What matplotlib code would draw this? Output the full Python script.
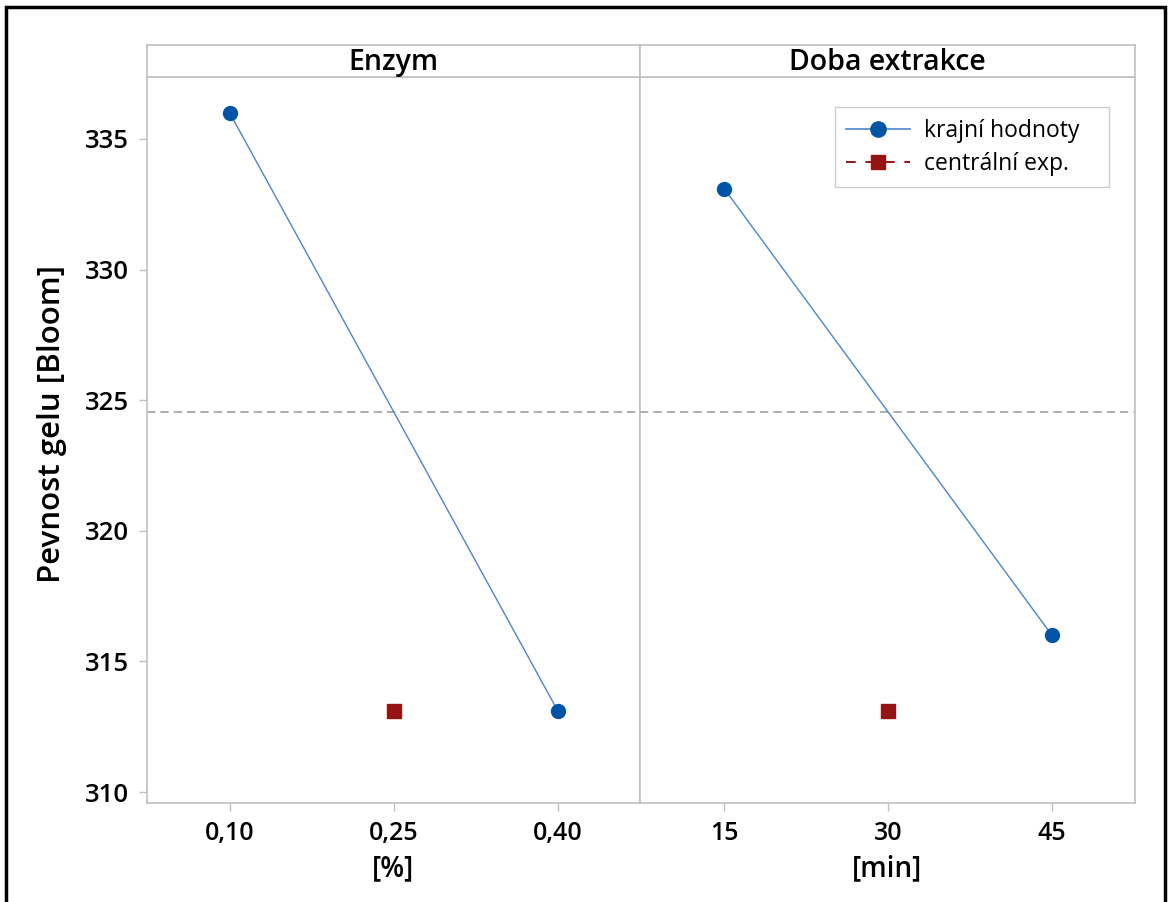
import matplotlib.pyplot as plt
from matplotlib.patches import Rectangle
from matplotlib.lines import Line2D

# data
factors = ['Enzym', 'Doba extrakce']
units = ['[%]', '[min]']
levels = [[0.10, 0.25, 0.40], [15, 30, 45]]
level_labels = [['0,10', '0,25', '0,40'], ['15', '30', '45']]
extreme_means = [[336.0, 313.1], [333.1, 316.0]]
center_means = [313.1, 313.1]
overall_mean = 324.55
yticks = [310, 315, 320, 325, 330, 335]

plt.rcParams['font.family'] = ['Open Sans', 'DejaVu Sans']

W, H = 1176, 902
fig = plt.figure(figsize=(W / 100, H / 100), dpi=100)

blue = '#0054a6'
line_blue = '#4a86c8'
red = '#941414'
grey = '#c0c0c0'

ax_top, ax_bot, strip_top = 77, 803, 45
panel_x = [(147, 640), (640, 1135)]
xlims = [(0.0245, 0.475), (7.3, 52.6)]
ylim = (309.58, 337.37)

for i, (x0, x1) in enumerate(panel_x):
    ax = fig.add_axes([x0 / W, (H - ax_bot) / H, (x1 - x0) / W, (ax_bot - ax_top) / H])
    lv = levels[i]
    ax.plot([lv[0], lv[2]], extreme_means[i], color=line_blue, lw=1.0, zorder=2)
    ax.plot([lv[0], lv[2]], extreme_means[i], 'o', color=blue, ms=10, zorder=3)
    ax.plot([lv[1]], [center_means[i]], 's', color=red, ms=10, zorder=3)
    ax.axhline(overall_mean, color='#a0a0a0', lw=1.2, ls=(0, (5, 3)), zorder=1)
    ax.set_xlim(*xlims[i])
    ax.set_ylim(*ylim)
    ax.set_xticks(lv)
    ax.set_xticklabels(level_labels[i], fontsize=18, fontweight='semibold')
    ax.set_xlabel(units[i], fontsize=20, fontweight='semibold', labelpad=6)
    for sp in ax.spines.values():
        sp.set_color(grey)
        sp.set_linewidth(1.2)
    ax.tick_params(axis='both', color=grey, length=6, width=1, pad=7)
    if i == 0:
        ax.set_yticks(yticks)
        ax.set_yticklabels([str(t) for t in yticks], fontsize=18.5, fontweight='semibold')
        ax.set_ylabel('Pevnost gelu [Bloom]', fontsize=22.5, fontweight='semibold')
        ax.yaxis.set_label_coords(-0.163, 0.522)
    else:
        ax.set_yticks([])
        handles = [
            Line2D([], [], color=line_blue, lw=1.2, marker='o', ms=11,
                   markerfacecolor=blue, markeredgecolor=blue),
            Line2D([], [], color=red, lw=1.4, ls=(0, (5, 5)), marker='s', ms=10,
                   markerfacecolor=red, markeredgecolor=red),
        ]
        leg = ax.legend(handles, ['krajní hodnoty   ', 'centrální exp.'],
                        loc='upper right', bbox_to_anchor=(0.947, 0.958),
                        fontsize=16.5, frameon=True, fancybox=False,
                        handlelength=2.8, handletextpad=0.6,
                        borderpad=0.5, labelspacing=0.38,
                        borderaxespad=0)
        leg.get_frame().set_edgecolor(grey)
        leg.get_frame().set_linewidth(1.0)

    # strip with factor name
    sax = fig.add_axes([x0 / W, (H - ax_top) / H, (x1 - x0) / W, (ax_top - strip_top) / H])
    sax.set_xticks([])
    sax.set_yticks([])
    for sp in sax.spines.values():
        sp.set_color(grey)
        sp.set_linewidth(1.2)
    sax.text(0.5, 0.45, factors[i], ha='center', va='center', fontsize=20.5,
             fontweight='semibold', transform=sax.transAxes)

# black frame around the whole graph
fig.patches.append(Rectangle((6 / W, -0.02), (1165 - 6) / W, 1.02 - 7 / H,
                             transform=fig.transFigure, fill=False,
                             edgecolor='black', linewidth=2.5))

fig.savefig('out.png', dpi=100)
